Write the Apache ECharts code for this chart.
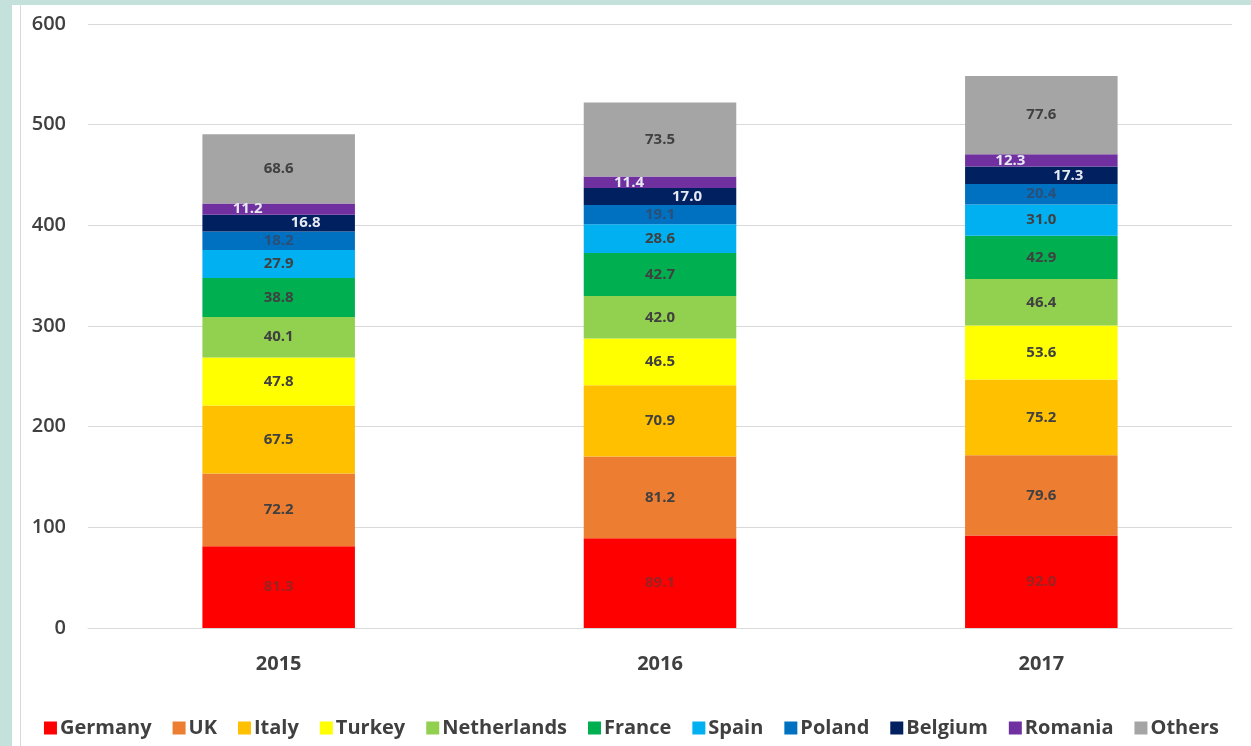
<!DOCTYPE html>
<html>
<head>
<meta charset="utf-8">
<script src="https://cdn.jsdelivr.net/npm/echarts@6/dist/echarts.min.js"></script>
<style>
  body { margin: 0; background: #c5e1dc; width: 1251px; height: 746px; overflow: hidden; }
  #panel { position: absolute; left: 12px; top: 5px; width: 1239px; height: 741px; background: #fff; }
  #edge { position: absolute; left: 20px; top: 5px; width: 1px; height: 741px; background: #d8d8d8; }
  #chart { position: absolute; left: 12px; top: 5px; width: 1239px; height: 741px; }
</style>
</head>
<body>
<div id="panel"></div>
<div id="edge"></div>
<div id="chart"></div>
<script>
var years = ["2015", "2016", "2017"];
var germany = [81.3, 89.1, 92.0];
var uk = [72.2, 81.2, 79.6];
var italy = [67.5, 70.9, 75.2];
var turkey = [47.8, 46.5, 53.6];
var netherlands = [40.1, 42.0, 46.4];
var france = [38.8, 42.7, 42.9];
var spain = [27.9, 28.6, 31.0];
var poland = [18.2, 19.1, 20.4];
var belgium = [16.8, 17.0, 17.3];
var romania = [11.2, 11.4, 12.3];
var others = [68.6, 73.5, 77.6];

var names = ["Germany", "UK", "Italy", "Turkey", "Netherlands", "France", "Spain", "Poland", "Belgium", "Romania", "Others"];
var values = [germany, uk, italy, turkey, netherlands, france, spain, poland, belgium, romania, others];
var colors = ["#ff0000", "#ed7d31", "#ffc000", "#ffff00", "#92d050", "#00b050", "#00b0f0", "#0070c0", "#002060", "#7030a0", "#a5a5a5"];
var labelColors = ["#9a2222", "#404040", "#404040", "#404040", "#404040", "#404040", "#404040", "#2a4f78", "#e6e8f2", "#e6e8f2", "#404040"];
var labelOffsets = [0, 0, 0, 0, 0, 0, 0, 0, 27, -31, 0];

var myChart = echarts.init(document.getElementById("chart"));
var series = [];
for (var i = 0; i < names.length; i++) {
  series.push({
    name: names[i],
    type: "bar",
    stack: "total",
    barWidth: "40%",
    data: values[i],
    itemStyle: { color: colors[i] },
    label: {
      show: true,
      position: "inside",
      offset: [labelOffsets[i], 0],
      color: labelColors[i],
      fontSize: 15,
      fontWeight: "bold",
      fontFamily: "Open Sans",
      formatter: function (p) { return p.value.toFixed(1); }
    }
  });
}

var option = {
  animation: false,
  grid: { left: 76, right: 19, top: 19, bottom: 118 },
  legend: {
    bottom: 3,
    left: "center",
    itemWidth: 13,
    itemHeight: 13,
    itemGap: 21,
    icon: "rect",
    textStyle: { fontSize: 20, color: "#404040", fontWeight: "bold", fontFamily: "Open Sans", padding: [0, 0, 0, -2] },
    data: names
  },
  xAxis: {
    type: "category",
    data: years,
    axisLine: { show: true, lineStyle: { color: "#d9d9d9" } },
    axisTick: { show: false },
    axisLabel: { fontSize: 20, color: "#404040", fontWeight: "bold", fontFamily: "Open Sans", margin: 26 }
  },
  yAxis: {
    type: "value",
    min: 0,
    max: 600,
    interval: 100,
    axisLine: { show: false },
    axisTick: { show: false },
    splitLine: { lineStyle: { color: "#d9d9d9" } },
    axisLabel: { fontSize: 20, color: "#404040", fontWeight: 600, fontFamily: "Open Sans", margin: 22 }
  },
  series: series
};
myChart.setOption(option);
</script>
</body>
</html>
